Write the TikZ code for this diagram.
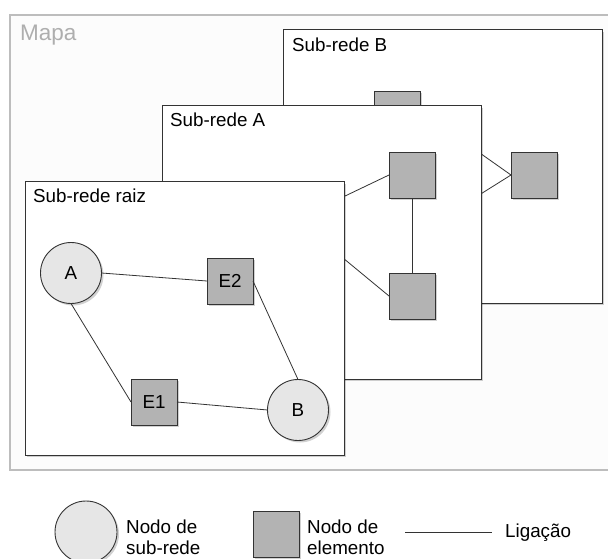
\documentclass[tikz,border=0pt]{standalone}
\usepackage{fontspec}
\setmainfont{Liberation Sans}
\usetikzlibrary{shadows}
\definecolor{linecol}{HTML}{333333}
\definecolor{elemfill}{HTML}{B3B3B3}
\definecolor{subfill}{HTML}{E6E6E6}
\definecolor{mapcol}{HTML}{BDBDBD}
\definecolor{maptext}{HTML}{AEAEAE}
\definecolor{mapfill}{HTML}{FCFCFC}
\begin{document}
\begin{tikzpicture}[x=1pt,y=-1pt,
  font=\fontsize{18.8}{21}\selectfont,
  softshadow/.style={drop shadow={shadow xshift=2pt,shadow yshift=-2pt,opacity=0.18,fill=black}},
  netbox/.style={draw=linecol,line width=1pt,fill=white,softshadow},
  boxlabel/.style={anchor=base west,inner sep=0pt},
  elemnode/.style={rectangle,draw=linecol,line width=0.9pt,fill=elemfill,minimum size=46pt,inner sep=0pt,outer sep=0pt,softshadow},
  subnode/.style={circle,draw=linecol,line width=0.9pt,fill=subfill,minimum size=61pt,inner sep=0pt,outer sep=0pt,softshadow},
  link/.style={draw=linecol,line width=0.8pt},
  legtext/.style={anchor=base west,inner sep=0pt,align=left}
]
\useasboundingbox (0,0) rectangle (608,559);

% outer map frame
\draw[draw=mapcol,line width=2.4pt,fill=mapfill] (10,15) rectangle (614,470);
\node[boxlabel,text=maptext,font=\fontsize{22.5}{26}\selectfont] (mapa) at (20,41) {Mapa};

% sub-network B
\draw[netbox] (283,30) rectangle (602,303);
\node[boxlabel] (lblB) at (292,52) {Sub-rede B};
\coordinate (bh1) at (460,139);
\coordinate (bh2) at (460,207);
\node[elemnode] (b1) at (397,114) {};
\node[elemnode] (b2) at (534,175) {};
\draw[link] (bh1) -- (b2.west);
\draw[link] (bh2) -- (b2.west);

% sub-network A
\draw[netbox] (162,106) rectangle (481,379);
\node[boxlabel] (lblA) at (170,127) {Sub-rede A};
\coordinate (ah1) at (320,208);
\coordinate (ah2) at (320,239);
\node[elemnode] (a1) at (412,175) {};
\node[elemnode] (a2) at (412,296) {};
\draw[link] (ah1) -- (a1.west);
\draw[link] (ah2) -- (a2.west);
\draw[link] (a1.south) -- (a2.north);

% root sub-network
\draw[netbox] (25,182) rectangle (344,455);
\node[boxlabel] (lblR) at (33,203) {Sub-rede raiz};
\node[subnode] (nA) at (71,273) {A};
\node[subnode] (nB) at (298,410) {B};
\node[elemnode] (e2) at (230,281) {E2};
\node[elemnode] (e1) at (154,402) {E1};
\draw[link] (nA.east) -- (e2.west);
\draw[link] (nA.south) -- (e1.west);
\draw[link] (e1.east) -- (nB.west);
\draw[link] (e2.east) -- (nB.north);

% legend
\node[subnode,minimum size=62pt] (legC) at (86,532) {};
\node[legtext] (legCt) at (126,554) {Nodo de\\sub-rede};
\node[elemnode] (legS) at (276,534) {};
\node[legtext] (legSt) at (307,554) {Nodo de\\elemento};
\coordinate (legL1) at (405,532);
\coordinate (legL2) at (492,532);
\draw[link] (legL1) -- (legL2);
\node[legtext] (legLt) at (505,537) {Ligação};
\end{tikzpicture}
\end{document}
